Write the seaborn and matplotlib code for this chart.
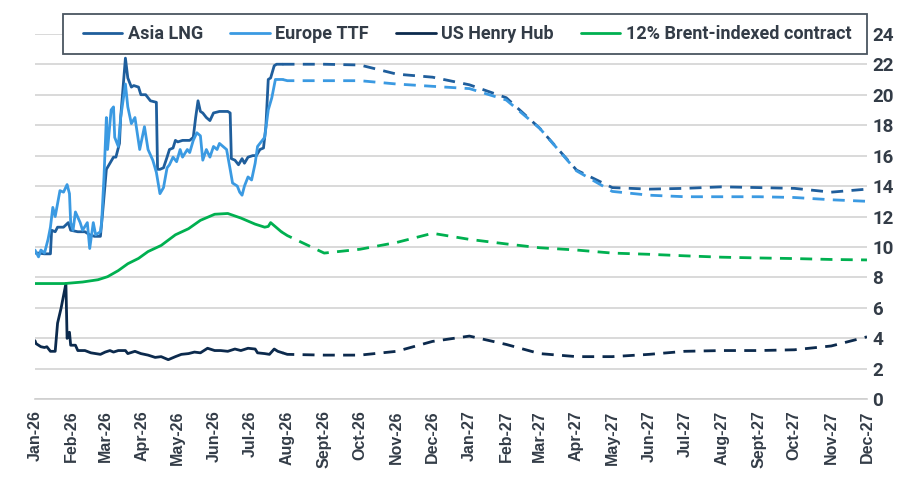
import numpy as np
import pandas as pd
import matplotlib
matplotlib.use('Agg')
import matplotlib.pyplot as plt
import seaborn as sns

start = pd.Timestamp('2026-01-01')

# historical readings: day offset from 1 Jan 2026 and $/MMBtu
asia_days = [0, 3, 8, 13, 14, 17, 19, 24, 28, 30, 36, 42, 46, 50, 55, 57, 60, 63, 66, 68,
             71, 72, 76, 78, 81, 83, 87, 89, 93, 97, 102, 103, 105, 108, 111, 113, 116, 118, 120, 124,
             130, 133, 135, 137, 139, 141, 144, 147, 150, 155, 162, 164, 165, 168, 171, 174, 176, 179, 183, 186,
             189, 192, 194, 196, 198, 201, 203, 208]
asia_hist = [9.6, 9.6, 9.55, 9.55, 11.1, 11.0, 11.3, 11.3, 11.6, 11.1, 11.0, 11.0, 10.8, 10.7, 10.7, 12.4, 15.1, 15.5, 15.9, 15.9,
             16.8, 18.5, 22.4, 21.1, 20.5, 20.6, 20.5, 20.0, 20.0, 19.6, 19.5, 15.1, 15.1, 15.2, 15.9, 16.4, 16.5, 17.0, 16.9, 17.0,
             17.0, 17.2, 18.5, 19.6, 18.9, 18.8, 18.5, 18.3, 18.8, 18.9, 18.9, 18.8, 15.8, 15.7, 15.4, 15.8, 15.5, 15.9, 16.0, 16.0,
             16.4, 16.5, 17.9, 21.0, 21.1, 21.9, 22.0, 22.0]

eu_days = [0, 3, 5, 8, 11, 13, 15, 17, 21, 24, 27, 29, 30, 32, 34, 38, 40, 44, 46, 49,
           51, 55, 56, 58, 60, 61, 64, 66, 67, 70, 72, 76, 78, 81, 84, 88, 92, 95, 99, 102,
           105, 108, 111, 113, 116, 119, 122, 124, 128, 130, 133, 136, 139, 141, 144, 147, 150, 153, 155, 158,
           161, 164, 166, 170, 172, 174, 176, 179, 182, 185, 187, 191, 193, 196, 199, 202, 208]
eu_hist = [9.8, 9.35, 9.8, 9.6, 10.5, 11.3, 12.6, 12.0, 13.7, 13.6, 14.1, 13.5, 11.6, 11.1, 12.3, 11.6, 11.1, 11.6, 9.9, 11.6,
           10.8, 11.0, 11.6, 14.6, 18.5, 16.4, 19.0, 19.2, 17.2, 16.6, 18.5, 20.7, 19.2, 18.1, 18.5, 16.4, 17.9, 16.4, 15.7, 14.9,
           13.5, 13.9, 15.2, 15.4, 15.9, 15.6, 16.4, 15.9, 16.4, 16.2, 17.0, 17.5, 17.3, 15.7, 16.4, 15.9, 16.6, 16.4, 16.8, 16.6,
           16.4, 15.1, 14.2, 14.0, 13.6, 13.4, 14.0, 14.6, 14.4, 15.5, 16.6, 17.0, 17.2, 19.0, 19.8, 21.0, 21.0]

hh_days = [0, 1, 5, 8, 10, 13, 17, 19, 22, 26, 27, 29, 30, 34, 36, 42, 47, 55, 59, 63,
           66, 70, 76, 78, 84, 89, 95, 101, 106, 112, 118, 123, 129, 134, 139, 145, 151, 156, 162, 168,
           173, 179, 185, 187, 193, 197, 201, 204, 208]
hh_hist = [3.85, 3.65, 3.45, 3.4, 3.45, 3.15, 3.15, 5.0, 6.0, 7.6, 4.0, 4.4, 3.55, 3.55, 3.2, 3.2, 3.05, 2.95, 3.1, 3.2,
           3.1, 3.2, 3.2, 3.0, 3.15, 3.0, 2.9, 2.75, 2.8, 2.6, 2.8, 2.95, 3.0, 3.1, 3.05, 3.35, 3.2, 3.2, 3.15, 3.3,
           3.2, 3.35, 3.3, 3.05, 3.0, 2.95, 3.3, 3.15, 3.05]

brent_days = [0, 25, 40, 53, 61, 70, 78, 87, 95, 106, 118, 129, 139, 151, 162, 173, 185, 193, 196, 198, 207]
brent_hist = [7.6, 7.6, 7.7, 7.85, 8.05, 8.45, 8.9, 9.25, 9.7, 10.1, 10.8, 11.2, 11.75, 12.15, 12.2, 11.9, 11.5, 11.3, 11.35, 11.6, 11.0]

# monthly forward curves, Aug-26 .. Dec-27
forecast_months = pd.date_range('2026-08-01', '2027-12-01', freq='MS')
asia_fcst = [22.0, 22.0, 21.95, 21.35, 21.15, 20.65, 19.8, 17.8, 15.05, 13.9, 13.8, 13.85, 13.95, 13.9, 13.85, 13.6, 13.8]
eu_fcst = [20.92, 20.92, 20.92, 20.7, 20.55, 20.4, 19.65, 17.8, 15.0, 13.65, 13.4, 13.3, 13.3, 13.3, 13.25, 13.1, 13.0]
hh_fcst = [2.95, 2.9, 2.9, 3.15, 3.8, 4.15, 3.6, 3.0, 2.8, 2.8, 2.95, 3.15, 3.2, 3.2, 3.25, 3.5, 4.1]
brent_fcst = [10.75, 9.6, 9.85, 10.3, 10.9, 10.5, 10.2, 9.95, 9.8, 9.6, 9.52, 9.42, 9.33, 9.28, 9.24, 9.18, 9.15]

series_names = ['Asia LNG', 'Europe TTF', 'US Henry Hub', '12% Brent-indexed contract']
series_colors = ['#1f5e9c', '#3b9ae2', '#0c2a4d', '#00b050']

month_ticks = pd.date_range('2026-01-01', '2027-12-01', freq='MS')
month_labels = ['Jan-26', 'Feb-26', 'Mar-26', 'Apr-26', 'May-26', 'Jun-26', 'Jul-26', 'Aug-26',
                'Sept-26', 'Oct-26', 'Nov-26', 'Dec-26', 'Jan-27', 'Feb-27', 'Mar-27', 'Apr-27',
                'May-27', 'Jun-27', 'Jul-27', 'Aug-27', 'Sept-27', 'Oct-27', 'Nov-27', 'Dec-27']

sns.set_style('white')
plt.rcParams['font.family'] = ['Roboto', 'DejaVu Sans']

text_color = '#333c47'
grid_color = '#d9d9d9'

fig, ax = plt.subplots(figsize=(9.08, 4.96), dpi=100)
fig.subplots_adjust(left=0.0385, right=0.9548, bottom=0.195, top=0.9319)

hist = [(asia_days, asia_hist), (eu_days, eu_hist), (hh_days, hh_hist), (brent_days, brent_hist)]
fcst = [asia_fcst, eu_fcst, hh_fcst, brent_fcst]

handles = []
for name, color, (days, vals), fc in zip(series_names, series_colors, hist, fcst):
    hdf = pd.DataFrame({'date': start + pd.to_timedelta(days, unit='D'), 'value': vals})
    sns.lineplot(data=hdf, x='date', y='value', color=color, lw=2.0, ax=ax, legend=False)
    handles.append(ax.lines[-1])
    # forward curve joins on from the last actual reading
    fdf = pd.concat([hdf.tail(1), pd.DataFrame({'date': forecast_months, 'value': fc})], ignore_index=True)
    sns.lineplot(data=fdf, x='date', y='value', color=color, lw=2.0, ax=ax, legend=False)
    ax.lines[-1].set_dashes((4.3, 3.0))

ax.set_ylim(0, 24)
ax.set_yticks(range(0, 25, 2))
ax.set_xlim(month_ticks[0], month_ticks[-1])
ax.set_xticks(month_ticks)
ax.set_xticklabels(month_labels, rotation=90, family='Liberation Sans', fontweight='bold',
                   fontsize=11.5, color=text_color)
ax.set_xlabel('')
ax.set_ylabel('')

ax.yaxis.tick_right()
ax.tick_params(axis='y', length=0, pad=4, labelsize=13.5, labelcolor=text_color)
for lbl in ax.get_yticklabels():
    lbl.set_fontweight('bold')
ax.tick_params(axis='x', length=5, width=1.2, color='#cfcfcf', pad=3)

ax.yaxis.grid(True, color=grid_color, lw=1.4)
ax.xaxis.grid(False)
ax.set_axisbelow(True)
for side in ['top', 'right', 'left']:
    ax.spines[side].set_visible(False)
ax.spines['bottom'].set_color('#cfcfcf')
ax.spines['bottom'].set_linewidth(1.2)

# legend box drawn separately so the padding can match the original
W, H = 908, 496
box = plt.Rectangle((63 / W, 1 - 54 / H), 804 / W, 40 / H, transform=fig.transFigure,
                    facecolor='white', edgecolor='#4a5560', lw=1.3, zorder=3)
fig.add_artist(box)
leg = fig.legend(handles, series_names, loc='center', bbox_to_anchor=(467 / W, 1 - 34 / H),
                 ncol=4, frameon=False, handlelength=2.2, handletextpad=0.3, columnspacing=1.5,
                 borderpad=0, prop=dict(family='Roboto', weight='bold', size=13))
leg.set_zorder(5)
for t in leg.get_texts():
    t.set_color(text_color)

plt.savefig('out.png', dpi=100)
plt.close(fig)
